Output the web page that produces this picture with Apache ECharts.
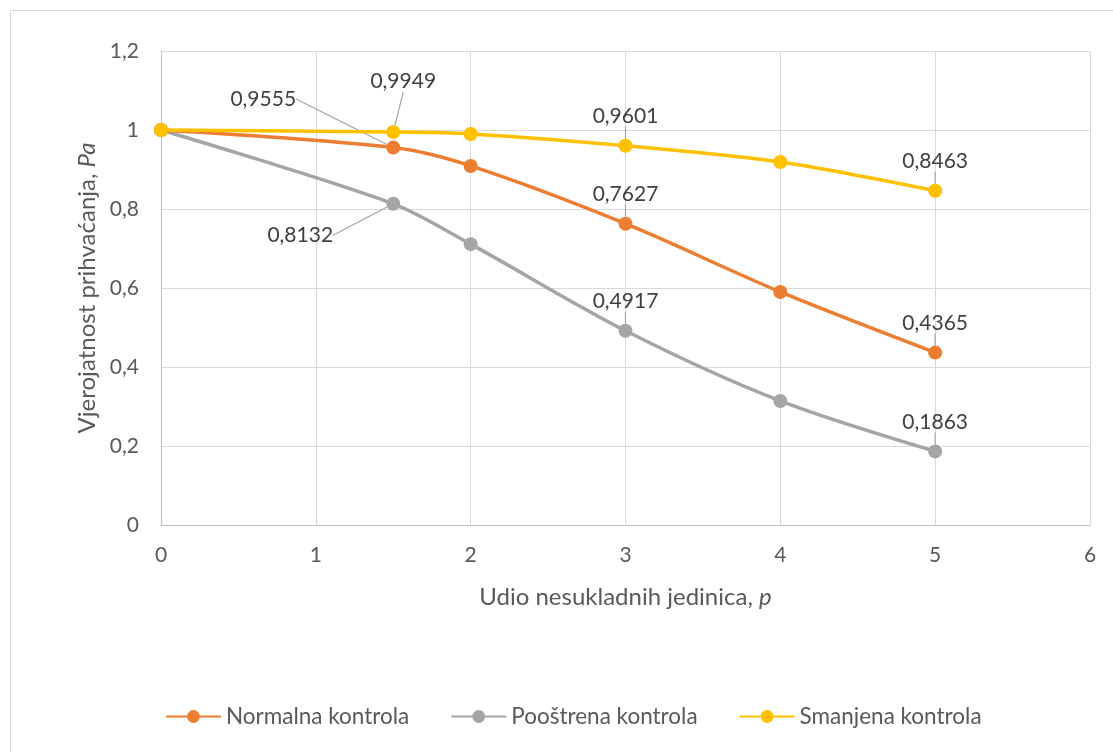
<!DOCTYPE html>
<html><head><meta charset="utf-8">
<script src="https://cdn.jsdelivr.net/npm/echarts@6/dist/echarts.min.js"></script>
<style>html,body{margin:0;padding:0;background:#fff}#c{width:1113px;height:752px}</style>
</head><body><div id="c"></div>
<script>
var xValues = [0, 1.5, 2, 3, 4, 5];
var normalna = [1, 0.9555, 0.909, 0.7627, 0.590, 0.4365];
var poostrena = [1, 0.8132, 0.711, 0.4917, 0.314, 0.1863];
var smanjena = [1, 0.9949, 0.990, 0.9601, 0.919, 0.8463];
var seriesNames = ['Normalna kontrola', 'Pooštrena kontrola', 'Smanjena kontrola'];
var labelledIdx = [1, 3, 5];
var colors = ['#ED7D31', '#A5A5A5', '#FFC000'];
var FONT = 'Lato';

// label offsets (style): [seriesIndex_dataIndex] -> [dx, dy]
var labelOffsets = {
  '0_1': [-130, -19],
  '1_1': [-93, 61],
  '2_1': [10, -21]
};

function mk(vals) {
  return xValues.map(function (x, i) {
    var item = { value: [x, vals[i]] };
    if (labelledIdx.indexOf(i) >= 0) item.label = { show: true };
    return item;
  });
}
function fmt(v) { return String(v).replace('.', ','); }

var allVals = [normalna, poostrena, smanjena];
var chart = echarts.init(document.getElementById('c'));
chart.setOption({
  animation: false,
  textStyle: { fontFamily: FONT },
  graphic: [{
    type: 'rect', shape: { x: 10.5, y: 10.5, width: 1110, height: 750 },
    style: { fill: 'none', stroke: '#d9d9d9', lineWidth: 1 }, silent: true
  }],
  grid: { left: 161, right: 23, top: 51, bottom: 227 },
  xAxis: {
    type: 'value', min: 0, max: 6, interval: 1,
    name: 'Udio nesukladnih jedinica, {i|p}', nameLocation: 'middle', nameGap: 60,
    nameTextStyle: { color: '#595959', fontSize: 24, fontFamily: FONT,
      rich: { i: { fontStyle: 'italic', color: '#595959', fontSize: 24, fontFamily: FONT } } },
    axisLine: { show: true, lineStyle: { color: '#bfbfbf', width: 1 } },
    axisTick: { show: false },
    axisLabel: { color: '#595959', fontSize: 21, margin: 20, formatter: fmt },
    splitLine: { show: true, lineStyle: { color: '#d9d9d9', width: 1 } }
  },
  yAxis: {
    type: 'value', min: 0, max: 1.2, interval: 0.2,
    name: 'Vjerojatnost prihvaćanja, {i|Pa}', nameLocation: 'middle', nameGap: 62,
    nameTextStyle: { color: '#595959', fontSize: 24, fontFamily: FONT,
      rich: { i: { fontStyle: 'italic', color: '#595959', fontSize: 24, fontFamily: FONT } } },
    axisLine: { show: true, lineStyle: { color: '#bfbfbf', width: 1 } },
    axisTick: { show: false },
    axisLabel: { color: '#595959', fontSize: 21, margin: 22, formatter: fmt },
    splitLine: { show: true, lineStyle: { color: '#d9d9d9', width: 1 } }
  },
  legend: {
    bottom: 19, left: 160, itemGap: 41, itemWidth: 55, itemHeight: 16,
    textStyle: { color: '#595959', fontSize: 22.5, fontFamily: FONT },
    data: seriesNames
  },
  series: seriesNames.map(function (n, si) {
    return {
      name: n, type: 'line', smooth: 0.3,
      data: mk(allVals[si]),
      symbol: 'circle', symbolSize: 14,
      lineStyle: { color: colors[si], width: 3.5 },
      itemStyle: { color: colors[si] },
      z: si === 2 ? 3 : (si === 0 ? 2 : 1),
      label: {
        show: false, position: 'top', distance: 12, color: '#404040', fontSize: 21, fontFamily: FONT,
        formatter: function (p) { return fmt(p.value[1]); }
      },
      labelLine: { show: true, lineStyle: { color: '#a5a5a5', width: 1.2 } },
      labelLayout: function (p) {
        var o = labelOffsets[si + '_' + p.dataIndex];
        return o ? { dx: o[0], dy: o[1] } : {};
      }
    };
  })
});
</script></body></html>
